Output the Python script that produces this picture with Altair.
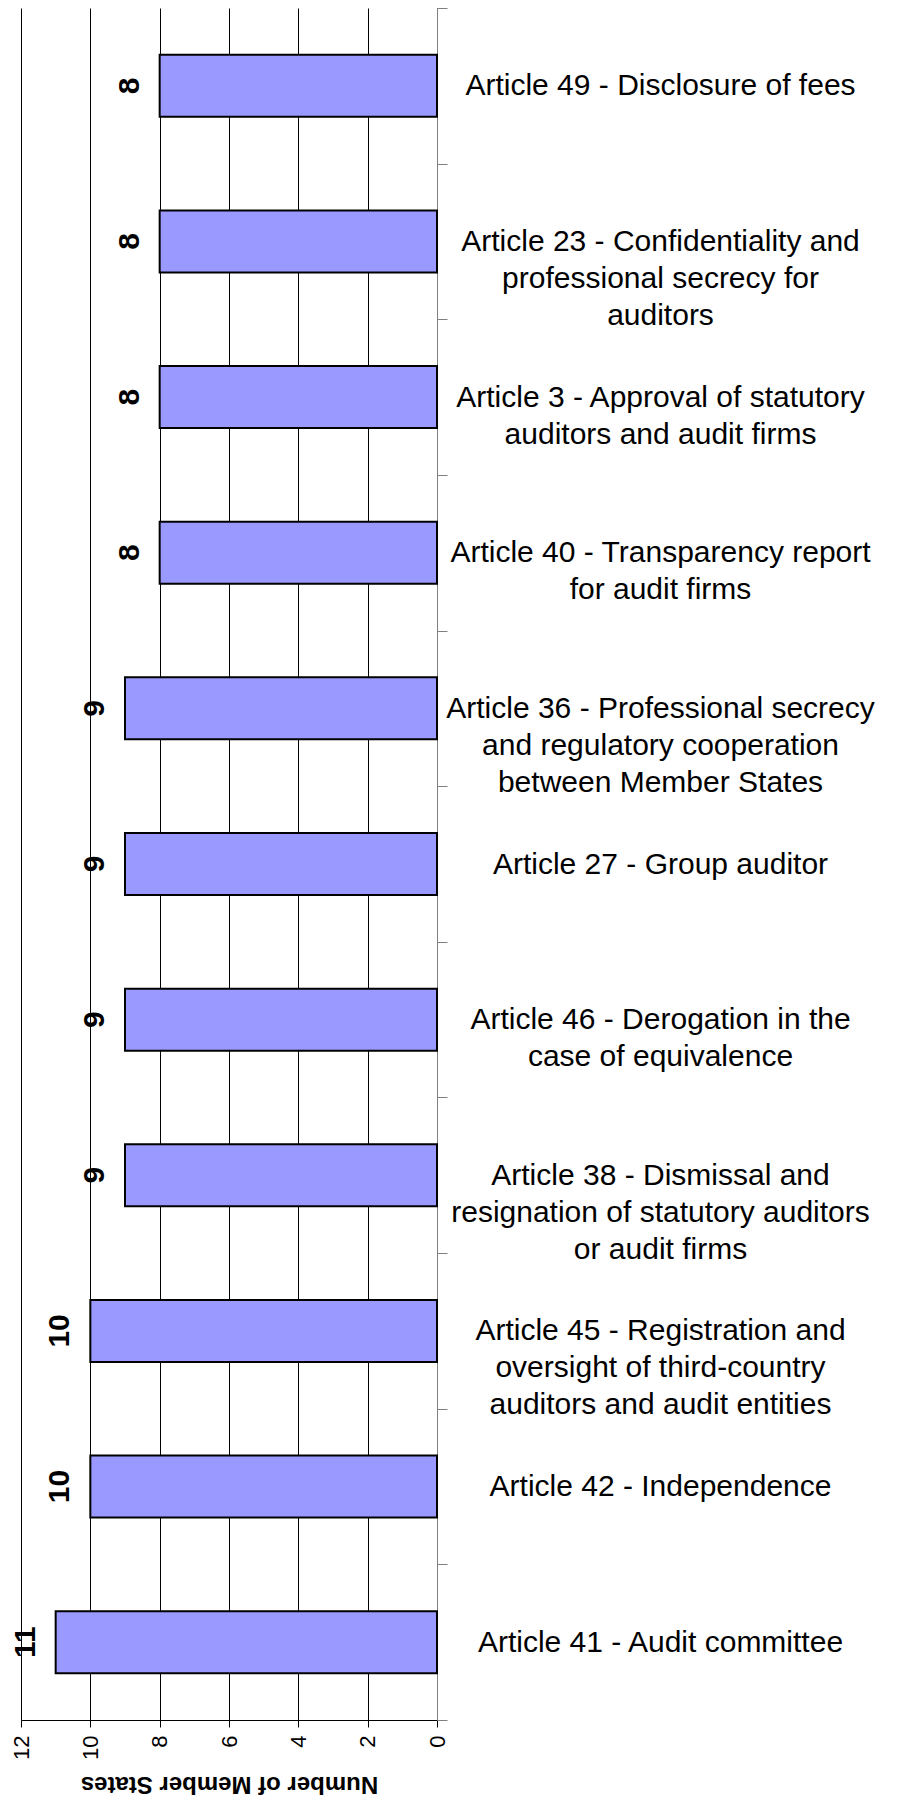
import altair as alt
import pandas as pd

articles = [
    "Article 49 - Disclosure of fees",
    "Article 23 - Confidentiality and|professional secrecy for|auditors",
    "Article 3 - Approval of statutory|auditors and audit firms",
    "Article 40 - Transparency report|for audit firms",
    "Article 36 - Professional secrecy|and regulatory cooperation|between Member States",
    "Article 27 - Group auditor",
    "Article 46 - Derogation in the|case of equivalence",
    "Article 38 - Dismissal and|resignation of statutory auditors|or audit firms",
    "Article 45 - Registration and|oversight of third-country|auditors and audit entities",
    "Article 42 - Independence",
    "Article 41 - Audit committee",
]
member_states = [8, 8, 8, 8, 9, 9, 9, 9, 10, 10, 11]
x_ticks = [0, 2, 4, 6, 8, 10, 12]

df = pd.DataFrame({"article": articles, "count": member_states})

FONT = "Liberation Sans"

x_enc = alt.X(
    "count:Q",
    scale=alt.Scale(domain=[0, 12], reverse=True, nice=False),
    axis=alt.Axis(
        values=x_ticks,
        title="Number of Member States",
        titleAngle=180,
        titleFontSize=24,
        titleFontWeight="bold",
        titlePadding=36,
        labelAngle=270,
        labelFontSize=22,
        labelPadding=8,
        tickSize=7,
        tickColor="#000000",
        domainColor="#000000",
        grid=True,
        gridColor="#000000",
        gridWidth=1,
        gridOpacity=1,
    ),
)
y_enc = alt.Y(
    "article:N",
    sort=articles,
    scale=alt.Scale(paddingInner=0, paddingOuter=0),
    axis=alt.Axis(
        orient="right",
        title=None,
        labelExpr="split(datum.label, '|')",
        labelAlign="center",
        labelBaseline="middle",
        labelPadding=213,
        labelFontSize=30,
        labelLineHeight=37,
        labelLimit=0,
        tickSize=10,
        tickColor="#808080",
        domainColor="#808080",
        tickBand="extent",
        grid=False,
    ),
)

bars = alt.Chart(df).mark_bar(
    size=62, color="#9999FF", stroke="#000000", strokeWidth=2
).encode(x=x_enc, y=y_enc)

labels = alt.Chart(df).mark_text(
    angle=270, fontSize=30, fontWeight="bold", align="center",
    baseline="middle", dy=-30, color="#000000"
).encode(x="count:Q", y=alt.Y("article:N", sort=articles), text="count:Q")

chart = alt.layer(bars, labels).properties(
    width=416,
    height=1712,
    autosize=alt.AutoSizeParams(type="none"),
    padding={"left": 13, "top": 0, "right": 460, "bottom": 80},
).configure(font=FONT).configure_view(stroke=None)

chart.save("out.html", embed_options={"renderer": "svg", "actions": False})
